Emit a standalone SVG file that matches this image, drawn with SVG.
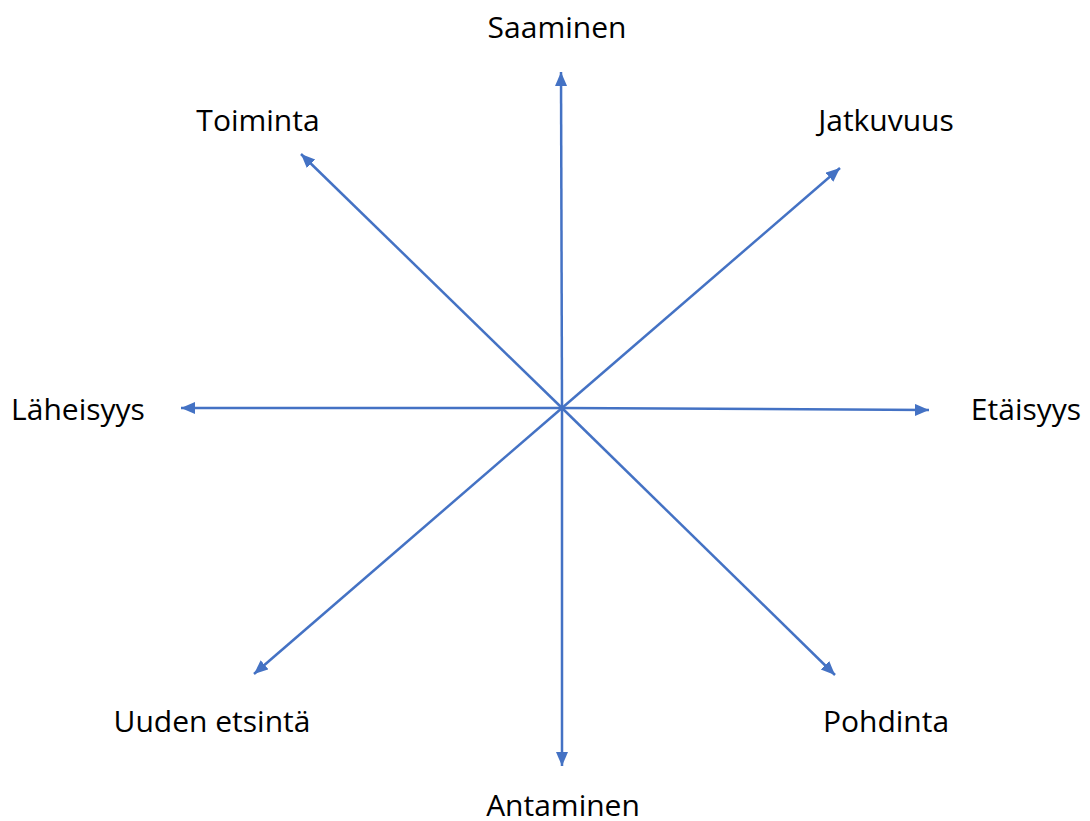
<svg xmlns="http://www.w3.org/2000/svg" width="1090" height="821" viewBox="0 0 1090 821">
<style>
.lbl{font-family:"Open Sans",Lato,"Liberation Sans",sans-serif;font-size:30px;fill:#000;text-anchor:middle}
.ax{stroke:#4472C4;stroke-width:2.5;fill:none;marker-end:url(#ah)}
</style>
<defs>
<marker id="ah" markerUnits="userSpaceOnUse" markerWidth="15" markerHeight="13" refX="14" refY="6" orient="auto">
<path d="M0,0 L14,6 L0,12 z" fill="#4472C4"/>
</marker>
</defs>
<rect width="1090" height="821" fill="#fff"/>
<g id="connectors">
<line class="ax" x1="562" y1="408" x2="561" y2="72"/>
<line class="ax" x1="562" y1="408" x2="301" y2="154"/>
<line class="ax" x1="562" y1="408" x2="840" y2="168"/>
<line class="ax" x1="562" y1="408" x2="181" y2="408"/>
<line class="ax" x1="562" y1="408" x2="929" y2="410"/>
<line class="ax" x1="562" y1="408" x2="254" y2="674"/>
<line class="ax" x1="562" y1="408" x2="835" y2="675"/>
<line class="ax" x1="562" y1="408" x2="562" y2="766"/>
</g>
<g id="saaminen"><text class="lbl" x="557" y="38">Saaminen</text></g>
<g id="toiminta"><text class="lbl" x="258" y="131">Toiminta</text></g>
<g id="jatkuvuus"><text class="lbl" x="886" y="131">Jatkuvuus</text></g>
<g id="laheisyys"><text class="lbl" x="78" y="420">Läheisyys</text></g>
<g id="etaisyys"><text class="lbl" x="1026" y="420">Etäisyys</text></g>
<g id="uuden-etsinta"><text class="lbl" x="212" y="732">Uuden etsintä</text></g>
<g id="pohdinta"><text class="lbl" x="886" y="732">Pohdinta</text></g>
<g id="antaminen"><text class="lbl" x="563" y="816">Antaminen</text></g>
</svg>
